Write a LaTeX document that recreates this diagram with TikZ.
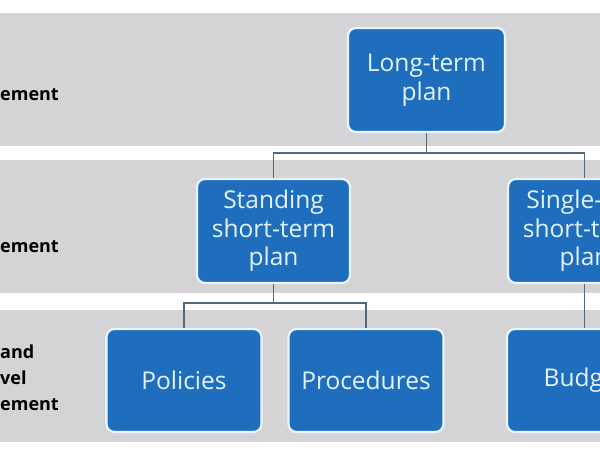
\documentclass[tikz,border=0pt]{standalone}
\usepackage{fontspec}
\setmainfont{Open Sans}
\definecolor{band}{HTML}{D4D4D6}
\definecolor{boxblue}{HTML}{1F6EBD}
\definecolor{boxtext}{HTML}{E4F3FF}
\definecolor{boxedge}{HTML}{EAF6FF}
\definecolor{conn}{HTML}{4E6A82}
\begin{document}
\begin{tikzpicture}[x=1pt,y=-1pt,
  planbox/.style={rectangle, rounded corners=8pt, fill=boxblue, draw=boxedge,
    line width=2.2pt, text=boxtext, font=\fontsize{24.5}{28.5}\selectfont,
    align=center, minimum width=155pt, minimum height=104pt, inner sep=0pt},
  levellabel/.style={anchor=west, inner sep=0pt, align=left,
    font=\fontsize{18}{26}\selectfont\bfseries, text=black},
  connector/.style={draw=conn, line width=1.2pt}]
\useasboundingbox (0,0) rectangle (600,450);
\clip (0,0) rectangle (600,450);
\fill[white] (0,0) rectangle (600,450);
\fill[band] (0,13) rectangle (600,146);
\fill[band] (0,160) rectangle (600,293);
\fill[band] (0,310) rectangle (600,442);

% level labels
\node[levellabel] (l1) at (0,95) {ement};
\node[levellabel] (l2) at (0,247) {ement};
\node[levellabel] (l3) at (0,378) {and\\vel\\ement};

% junctions
\coordinate (j1) at (426.5,153);
\coordinate (j2) at (273.5,303);

% boxes
\node[planbox, minimum width=157pt] (lt) at (426.5,80) {Long-term\\plan};
\node[planbox, minimum width=153pt] (st) at (273.5,231) {Standing\\short-term\\plan};
\node[planbox, minimum width=153pt] (su) at (584.5,231) {Single-use\\short-term\\plan};
\node[planbox, minimum height=103pt] (po) at (184,380.5) {Policies};
\node[planbox, minimum height=103pt] (pr) at (366,380.5) {Procedures};
\node[planbox, minimum height=103pt] (bu) at (584.5,380.5) {Budget};

% connectors
\draw[connector] (lt.south) -- (j1);
\draw[connector] (j1) -| (st.north);
\draw[connector] (j1) -| (su.north);
\draw[connector] (st.south) -- (j2);
\draw[connector] (j2) -| (po.north);
\draw[connector] (j2) -| (pr.north);
\draw[connector] (su.south) -- (bu.north);
\end{tikzpicture}
\end{document}
